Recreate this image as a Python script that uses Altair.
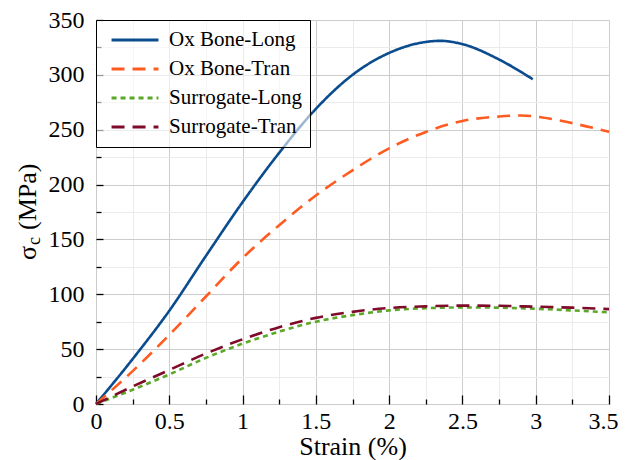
import altair as alt
import pandas as pd

series_names = ["Ox Bone-Long", "Ox Bone-Tran", "Surrogate-Long", "Surrogate-Tran"]
series_colors = ["#0b4c8e", "#ff5a1f", "#5ba829", "#7f0a2a"]
series_dashes = [[1, 0], [13, 8], [5, 4], [13, 8]]

ox_long_strain = [0, 0.25, 0.5, 0.75, 1.0, 1.25, 1.5, 1.75, 2.0, 2.25, 2.35, 2.5, 2.75, 2.98]
ox_long_stress = [0, 41, 85, 135, 184, 229, 269, 300, 320, 330, 331, 328, 314, 296]

ox_tran_strain = [0, 0.25, 0.5, 0.75, 1.0, 1.25, 1.5, 1.75, 2.0, 2.25, 2.5, 2.75, 2.9, 3.0, 3.25, 3.5]
ox_tran_stress = [0, 30, 63, 98, 133, 163, 190, 213, 233, 248, 258, 262, 263, 262, 256, 248]

sur_long_strain = [0, 0.25, 0.5, 0.75, 1.0, 1.25, 1.5, 1.75, 2.0, 2.25, 2.5, 2.75, 3.0, 3.25, 3.5]
sur_long_stress = [0, 13, 27, 42, 55, 66, 75, 81, 85.3, 87.3, 88, 87.8, 86.8, 85.3, 83.5]

sur_tran_strain = [0, 0.25, 0.5, 0.75, 1.0, 1.25, 1.5, 1.75, 2.0, 2.25, 2.5, 2.75, 3.0, 3.25, 3.5]
sur_tran_stress = [0, 16, 31, 46, 59, 70, 78.5, 84, 87.5, 89, 89.7, 89.5, 88.7, 87.8, 86.5]

x_tick_values = [0, 0.25, 0.5, 0.75, 1.0, 1.25, 1.5, 1.75, 2.0, 2.25, 2.5, 2.75, 3.0, 3.25, 3.5]
y_tick_values = [0, 25, 50, 75, 100, 125, 150, 175, 200, 225, 250, 275, 300, 325, 350]

rows = []
for name, xs, ys in [
    (series_names[0], ox_long_strain, ox_long_stress),
    (series_names[1], ox_tran_strain, ox_tran_stress),
    (series_names[2], sur_long_strain, sur_long_stress),
    (series_names[3], sur_tran_strain, sur_tran_stress),
]:
    for i, (a, b) in enumerate(zip(xs, ys)):
        rows.append({"series": name, "strain": a, "stress": b, "order": i})
df = pd.DataFrame(rows)

FONT = "Liberation Serif"
W, H = 513, 384

x_scale = alt.Scale(domain=[0, 3.5], nice=False)
y_scale = alt.Scale(domain=[0, 350], nice=False)

legend = alt.Legend(
    orient="top-left", title=None, offset=0, padding=8,
    fillColor="rgba(255,255,255,0.6)", strokeColor="black", cornerRadius=0,
    symbolType="stroke", symbolSize=2200, symbolStrokeWidth=3,
    symbolOffset=6, clipHeight=24,
    labelFont=FONT, labelFontSize=21, labelColor="black",
    labelOffset=9, rowPadding=5, labelLimit=400,
)

major_x = "abs(datum.value / 0.5 - round(datum.value / 0.5)) < 0.001"
major_y = "abs(datum.value / 50 - round(datum.value / 50)) < 0.001"
last_x = "datum.value > 3.4"

lines = alt.Chart(df).mark_line(strokeWidth=2.6, interpolate="monotone").encode(
    x=alt.X("strain:Q", scale=x_scale, axis=alt.Axis(
        values=x_tick_values, grid=True,
        gridColor={"condition": {"test": major_x, "value": "#cccccc"}, "value": "#ebebeb"},
        gridWidth=1, ticks=False, domain=False,
        labelExpr=f"({major_x}) ? datum.label : ''", format="~g",
        labelFont=FONT, labelFontSize=24, labelColor="black", labelPadding=5,
        labelAlign={"condition": {"test": last_x, "value": "right"}, "value": "center"},
        labelOffset={"condition": {"test": last_x, "value": 9}, "value": 0},
        labelFlush=False, labelOverlap=False,
        title="Strain (%)", titleFont=FONT, titleFontSize=26,
        titleFontWeight="normal", titleColor="black", titlePadding=0)),
    y=alt.Y("stress:Q", scale=y_scale, axis=alt.Axis(
        values=y_tick_values, grid=True,
        gridColor={"condition": {"test": major_y, "value": "#cccccc"}, "value": "#ebebeb"},
        gridWidth=1, ticks=False, domain=False,
        labelExpr=f"({major_y}) ? datum.label : ''", format="d",
        labelFont=FONT, labelFontSize=24, labelColor="black", labelPadding=12,
        labelFlush=False, labelOverlap=False, title=None)),
    color=alt.Color("series:N", scale=alt.Scale(domain=series_names, range=series_colors),
                    sort=series_names, legend=legend),
    strokeDash=alt.StrokeDash("series:N", scale=alt.Scale(domain=series_names, range=series_dashes),
                              sort=series_names, legend=legend),
    order="order:Q",
)

ticks = alt.Chart(df).mark_point(opacity=0).encode(
    x=alt.X("strain:Q", scale=x_scale, axis=alt.Axis(
        orient="top", offset=-H, values=x_tick_values, labels=False, domain=False,
        grid=False, ticks=True, tickColor="black", tickWidth=1.3,
        tickSize={"condition": {"test": major_x, "value": 9}, "value": 5}, title=None)),
    y=alt.Y("stress:Q", scale=y_scale, axis=alt.Axis(
        orient="right", offset=-W, values=y_tick_values, labels=False, domain=False,
        grid=False, ticks=True, tickColor="black", tickWidth=1.3,
        tickSize={"condition": {"test": major_y, "value": 7}, "value": 5}, title=None)),
)

one = pd.DataFrame({"k": [0]})
t_sigma = alt.Chart(one).mark_text(text="σ", font=FONT, fontSize=26, angle=270,
                                   align="left", baseline="middle", color="black").encode(
    x=alt.value(-68), y=alt.value(240))
t_sub = alt.Chart(one).mark_text(text="c", font=FONT, fontSize=18, angle=270,
                                 align="left", baseline="middle", color="black").encode(
    x=alt.value(-61), y=alt.value(225))
t_unit = alt.Chart(one).mark_text(text="(MPa)", font=FONT, fontSize=26, angle=270,
                                  align="left", baseline="middle", color="black").encode(
    x=alt.value(-68), y=alt.value(210))

chart = alt.layer(lines, ticks, t_sigma, t_sub, t_unit).resolve_axis(
    x="independent", y="independent"
).properties(
    width=W, height=H,
    autosize=alt.AutoSizeParams(type="none"),
    padding={"left": 88, "top": 12, "right": 10, "bottom": 56},
).configure_view(stroke="black", strokeWidth=1.5).configure(background="white")

chart.save("out.html", embed_options={"renderer": "svg", "actions": False})
